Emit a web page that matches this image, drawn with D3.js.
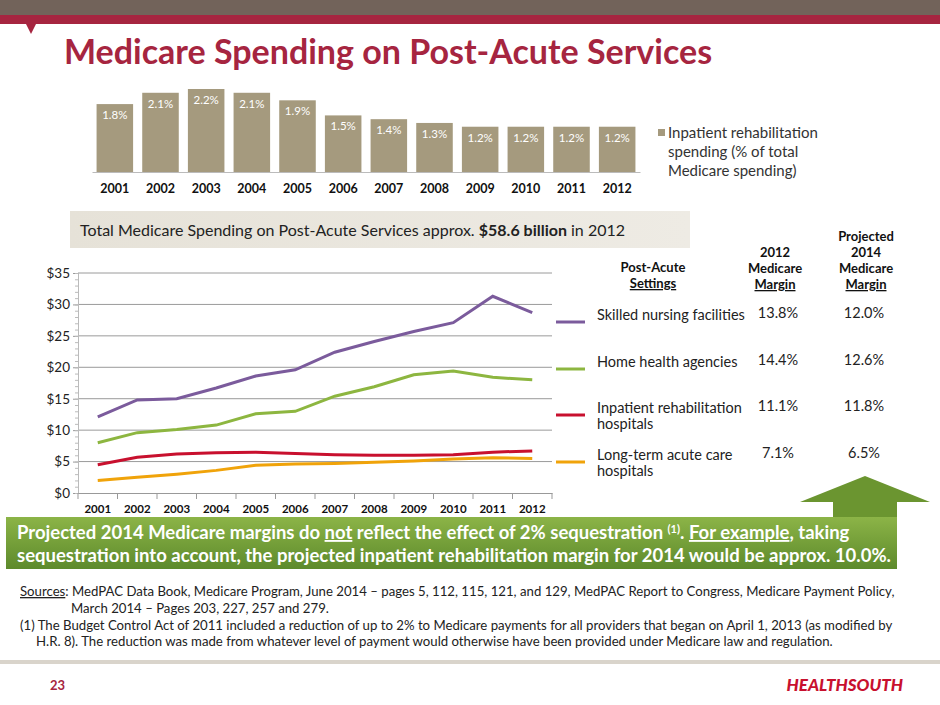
<!DOCTYPE html>
<html><head><meta charset="utf-8">
<script src="https://cdn.jsdelivr.net/npm/d3@7"></script>
<style>
body{margin:0;background:#fff;}
text{font-family:Lato,"DejaVu Sans",sans-serif;}
</style></head>
<body><div id="svg-container"></div>
<script>
const width = 940;
const height = 705;
const years = d3.range(2001, 2013);
const share = [1.8, 2.1, 2.2, 2.1, 1.9, 1.5, 1.4, 1.3, 1.2, 1.2, 1.2, 1.2];

const settings = [
  {name: ['Skilled nursing facilities'], color: '#7B5B9C', m12: '13.8%', m14: '12.0%',
    values: [12.1, 14.8, 15.0, 16.7, 18.6, 19.6, 22.4, 24.1, 25.7, 27.1, 31.3, 28.7]},
  {name: ['Home health agencies'], color: '#8DB640', m12: '14.4%', m14: '12.6%',
    values: [8.0, 9.6, 10.1, 10.8, 12.6, 13.0, 15.4, 16.9, 18.8, 19.4, 18.4, 18.0]},
  {name: ['Inpatient rehabilitation', 'hospitals'], color: '#C8102E', m12: '11.1%', m14: '11.8%',
    values: [4.5, 5.7, 6.2, 6.4, 6.5, 6.3, 6.1, 6.0, 6.0, 6.1, 6.5, 6.7]},
  {name: ['Long-term acute care', 'hospitals'], color: '#F0A30A', m12: '7.1%', m14: '6.5%',
    values: [2.0, 2.5, 3.0, 3.6, 4.4, 4.6, 4.7, 4.9, 5.1, 5.4, 5.6, 5.5]}
];

const svg = d3.select('#svg-container').append('svg')
  .attr('width', width).attr('height', height);
const defs = svg.append('defs');
const g1 = defs.append('linearGradient').attr('id', 'greenGrad').attr('x1', 0).attr('y1', 0).attr('x2', 0).attr('y2', 1);
g1.append('stop').attr('offset', '0%').attr('stop-color', '#8CB447');
g1.append('stop').attr('offset', '100%').attr('stop-color', '#5D8A2C');
const g2 = defs.append('linearGradient').attr('id', 'greyGrad').attr('x1', 0).attr('y1', 0).attr('x2', 1).attr('y2', 0);
g2.append('stop').attr('offset', '0%').attr('stop-color', '#E6E2D8');
g2.append('stop').attr('offset', '100%').attr('stop-color', '#EEEBE4');

// header bands
svg.append('rect').attr('x', 0).attr('y', 0).attr('width', width).attr('height', 15).attr('fill', '#72635A');
svg.append('rect').attr('x', 0).attr('y', 15).attr('width', width).attr('height', 9).attr('fill', '#A62540');
svg.append('path').attr('d', 'M26,24 L36,24 L31,34 Z').attr('fill', '#A62540');

svg.append('text').attr('x', 64).attr('y', 64)
  .attr('font-size', 34).attr('font-weight', 'bold').attr('fill', '#A62540')
  .text('Medicare Spending on Post-Acute Services');

// top bar chart
const xBar = d3.scaleBand().domain(years).range([92, 640]).paddingInner(0.2).paddingOuter(0.1);
const yBar = d3.scaleLinear().domain([0, 2.2]).range([172, 89]);
const bars = svg.append('g');
bars.selectAll('rect').data(share).enter().append('rect')
  .attr('x', (d, i) => xBar(years[i])).attr('y', d => yBar(d))
  .attr('width', xBar.bandwidth()).attr('height', d => yBar(0) - yBar(d))
  .attr('fill', '#A59A7E');
bars.selectAll('text').data(share).enter().append('text')
  .attr('x', (d, i) => xBar(years[i]) + xBar.bandwidth() / 2).attr('y', d => yBar(d) + 15)
  .attr('text-anchor', 'middle').attr('font-size', 11.5).attr('fill', '#fff')
  .text(d => d.toFixed(1) + '%');
const barAxis = svg.append('g').attr('transform', 'translate(0,172)')
  .call(d3.axisBottom(xBar).tickSize(0).tickPadding(12));
barAxis.select('.domain').attr('stroke', '#bbb');
barAxis.selectAll('text').attr('font-size', 12.5).attr('font-weight', 'bold').attr('fill', '#111')
  .style('font-family', 'Lato, sans-serif');
svg.append('rect').attr('x', 658).attr('y', 129).attr('width', 7).attr('height', 7).attr('fill', '#A59A7E');
['Inpatient rehabilitation', 'spending (% of total', 'Medicare spending)'].forEach((t, i) => {
  svg.append('text').attr('x', 668).attr('y', 138 + i * 19).attr('font-size', 15).attr('fill', '#333').text(t);
});

// grey banner
svg.append('rect').attr('x', 70).attr('y', 211).attr('width', 620).attr('height', 37).attr('fill', 'url(#greyGrad)');
const bt = svg.append('text').attr('x', 80).attr('y', 236).attr('font-size', 16).attr('fill', '#222');
bt.append('tspan').text('Total Medicare Spending on Post-Acute Services approx. ');
bt.append('tspan').attr('font-weight', 'bold').text('$58.6 billion');
bt.append('tspan').text(' in 2012');

// line chart
const x = d3.scaleBand().domain(years).range([78, 552]);
const y = d3.scaleLinear().domain([0, 35]).range([493, 273]);
const chart = svg.append('g');
chart.append('g').selectAll('line').data(d3.range(5, 40, 5)).enter().append('line')
  .attr('x1', 78).attr('x2', 552).attr('y1', d => y(d)).attr('y2', d => y(d))
  .attr('stroke', '#9a9a9a').attr('stroke-width', 1);
const yAx = chart.append('g').attr('transform', 'translate(78,0)')
  .call(d3.axisLeft(y).tickValues(d3.range(0, 40, 5)).tickSize(5).tickFormat(d => '$' + d));
yAx.selectAll('text').attr('font-size', 13.5).attr('fill', '#222').style('font-family', 'Lato, sans-serif');
yAx.selectAll('line,.domain').attr('stroke', '#999');
chart.append('g').attr('transform', 'translate(78,0)')
  .call(d3.axisLeft(y).ticks(35).tickSize(3).tickFormat(''))
  .selectAll('line,.domain').attr('stroke', '#bbb');
const xAx = chart.append('g').attr('transform', 'translate(0,493)')
  .call(d3.axisBottom(x).tickSize(0).tickPadding(12));
xAx.select('.domain').attr('stroke', '#999');
xAx.selectAll('text').attr('font-size', 11.5).attr('font-weight', 'bold').attr('fill', '#111')
  .style('font-family', 'Lato, sans-serif');
chart.append('g').selectAll('line').data(d3.range(0, 13)).enter().append('line')
  .attr('x1', d => 78 + d * x.step()).attr('x2', d => 78 + d * x.step())
  .attr('y1', 493).attr('y2', 499).attr('stroke', '#999');

const line = d3.line().x((d, i) => x(years[i]) + x.bandwidth() / 2).y(d => y(d));
chart.selectAll('path.series').data(settings).enter().append('path')
  .attr('class', 'series').attr('d', d => line(d.values))
  .attr('fill', 'none').attr('stroke', d => d.color).attr('stroke-width', 3);

// legend table
const hdr = (lines, cx, y0) => {
  lines.forEach((t, i) => {
    svg.append('text').attr('x', cx).attr('y', y0 + i * 16).attr('text-anchor', 'middle')
      .attr('font-size', 13).attr('font-weight', 'bold').attr('fill', '#111')
      .attr('text-decoration', i === lines.length - 1 ? 'underline' : null).text(t);
  });
};
hdr(['Post-Acute', 'Settings'], 653, 272);
hdr(['2012', 'Medicare', 'Margin'], 775, 257);
hdr(['Projected', '2014', 'Medicare', 'Margin'], 866, 241);
const rowY = [322, 369, 415, 462];
settings.forEach((s, i) => {
  svg.append('line').attr('x1', 556).attr('x2', 585).attr('y1', rowY[i]).attr('y2', rowY[i])
    .attr('stroke', s.color).attr('stroke-width', 3);
  s.name.forEach((t, j) => {
    svg.append('text').attr('x', 597).attr('y', rowY[i] - 2 + j * 16).attr('font-size', 14.5).attr('fill', '#222').text(t);
  });
  svg.append('text').attr('x', 778).attr('y', rowY[i] - 4).attr('text-anchor', 'middle').attr('font-size', 14.5).attr('fill', '#222').text(s.m12);
  svg.append('text').attr('x', 864).attr('y', rowY[i] - 4).attr('text-anchor', 'middle').attr('font-size', 14.5).attr('fill', '#222').text(s.m14);
});

// arrow and green banner
svg.append('path').attr('d', 'M800,502 L865,476 L930,502 L897,502 L897,520 L833,520 L833,502 Z').attr('fill', '#6B9530');
svg.append('rect').attr('x', 6).attr('y', 517).attr('width', 891).attr('height', 52).attr('fill', 'url(#greenGrad)');
const l1 = svg.append('text').attr('x', 17).attr('y', 539).attr('font-size', 18.5).attr('font-weight', 'bold').attr('fill', '#fff');
l1.append('tspan').text('Projected 2014 Medicare margins do ');
l1.append('tspan').attr('text-decoration', 'underline').text('not');
l1.append('tspan').text(' reflect the effect of  2% sequestration ');
l1.append('tspan').attr('font-size', 11).attr('dy', -6).text('(1)');
l1.append('tspan').attr('dy', 6).text('. ');
l1.append('tspan').attr('text-decoration', 'underline').text('For example');
l1.append('tspan').text(', taking');
svg.append('text').attr('x', 17).attr('y', 562).attr('font-size', 18.5).attr('font-weight', 'bold').attr('fill', '#fff')
  .text('sequestration into account, the projected inpatient rehabilitation margin for 2014 would be approx. 10.0%.');

// sources
const fs = 13.2;
const src = svg.append('text').attr('x', 20).attr('y', 596).attr('font-size', fs).attr('fill', '#222');
src.append('tspan').attr('text-decoration', 'underline').text('Sources');
src.append('tspan').text(': MedPAC Data Book, Medicare Program, June 2014 – pages 5, 112, 115, 121, and 129, MedPAC Report to Congress, Medicare Payment Policy,');
svg.append('text').attr('x', 71).attr('y', 613).attr('font-size', fs).attr('fill', '#222').text('March 2014 – Pages 203, 227, 257 and 279.');
svg.append('text').attr('x', 20).attr('y', 630).attr('font-size', fs).attr('fill', '#222')
  .text('(1) The Budget Control Act of 2011 included a reduction of up to 2% to Medicare payments for all providers that began on April 1, 2013 (as modified by');
svg.append('text').attr('x', 36).attr('y', 646).attr('font-size', fs).attr('fill', '#222')
  .text('H.R. 8). The reduction was made from whatever level of payment would otherwise have been provided under Medicare law and regulation.');

// footer
svg.append('rect').attr('x', 0).attr('y', 660).attr('width', width).attr('height', 4).attr('fill', '#D9D4CB');
svg.append('text').attr('x', 50).attr('y', 690).attr('font-size', 13).attr('font-weight', 'bold').attr('fill', '#A62540').text('23');
svg.append('text').attr('x', 903).attr('y', 691).attr('text-anchor', 'end').attr('font-size', 17)
  .attr('font-weight', 900).attr('font-style', 'italic').attr('fill', '#C8102E').text('HEALTHSOUTH');
</script></body></html>
